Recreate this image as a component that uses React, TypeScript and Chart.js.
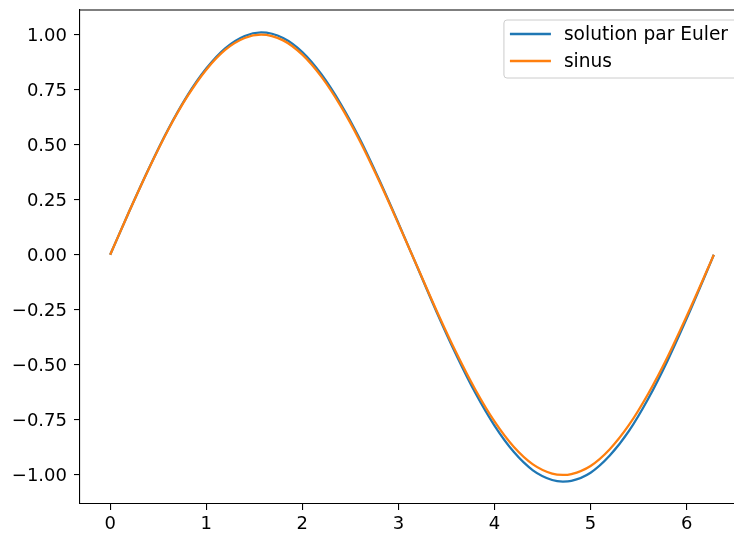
import React, { useEffect, useRef } from "react";
import { Chart, registerables } from "chart.js";

Chart.register(...registerables);

const xValues = [0, 0.2, 0.4, 0.6, 0.8, 1.0, 1.2, 1.4, 1.571, 1.8, 2.0, 2.2, 2.4, 2.6, 2.8, 3.0, 3.2, 3.4, 3.6, 3.8, 4.0, 4.2, 4.4, 4.6, 4.712, 4.8, 5.0, 5.2, 5.4, 5.6, 5.8, 6.0, 6.2, 6.283];
const eulerValues = [0, 0.199, 0.39, 0.567, 0.721, 0.846, 0.939, 0.994, 1.01, 0.985, 0.921, 0.819, 0.685, 0.525, 0.341, 0.144, -0.059, -0.262, -0.453, -0.627, -0.776, -0.895, -0.979, -1.023, -1.03, -1.027, -0.99, -0.912, -0.8, -0.654, -0.482, -0.29, -0.086, 0.0];
const sinusValues = [0, 0.199, 0.389, 0.565, 0.717, 0.841, 0.932, 0.985, 1.0, 0.974, 0.909, 0.808, 0.675, 0.516, 0.335, 0.141, -0.058, -0.256, -0.443, -0.612, -0.757, -0.872, -0.952, -0.994, -1.0, -0.996, -0.959, -0.883, -0.773, -0.631, -0.465, -0.279, -0.083, 0.0];
const seriesLabels = ["solution par Euler", "sinus"];
const seriesColors = ["#1f77b4", "#ff7f0e"];
const xTicks = [0, 1, 2, 3, 4, 5, 6];
const xTickLabels = ["0", "1", "2", "3", "4", "5", "6"];
const yTicks = [-1, -0.75, -0.5, -0.25, 0, 0.25, 0.5, 0.75, 1];
const yTickLabels = ["\u22121.00", "\u22120.75", "\u22120.50", "\u22120.25", "0.00", "0.25", "0.50", "0.75", "1.00"];

const FONT = "'DejaVu Sans', sans-serif";
const FS = 18;
const LEGEND_FS = 18.6;
const LINE_W = 2.3;

const framePlugin = {
  id: "frame",
  afterDatasetsDraw(chart: any) {
    const { ctx, chartArea: a } = chart;
    ctx.save();
    ctx.strokeStyle = "#000";
    ctx.lineWidth = 1.1;
    ctx.beginPath();
    ctx.moveTo(a.left, a.top);
    ctx.lineTo(a.right, a.top);
    ctx.lineTo(a.right, a.bottom);
    ctx.stroke();

    // legend
    ctx.font = `${LEGEND_FS}px ${FONT}`;
    const items = chart.data.datasets.map((ds: any) => ({ label: ds.label, color: ds.borderColor }));
    const textW = Math.max(...items.map((i: any) => ctx.measureText(i.label).width));
    const right = a.right - 7;
    const left = right - (6 + 41 + 13 + textW + 9);
    const top = a.top + 10;
    const rowH = 27;
    const h = 14 + rowH * (items.length - 1) + 17;
    const r = 3;
    ctx.beginPath();
    ctx.moveTo(left + r, top);
    ctx.lineTo(right - r, top);
    ctx.arcTo(right, top, right, top + r, r);
    ctx.lineTo(right, top + h - r);
    ctx.arcTo(right, top + h, right - r, top + h, r);
    ctx.lineTo(left + r, top + h);
    ctx.arcTo(left, top + h, left, top + h - r, r);
    ctx.lineTo(left, top + r);
    ctx.arcTo(left, top, left + r, top, r);
    ctx.closePath();
    ctx.fillStyle = "rgba(255,255,255,0.8)";
    ctx.fill();
    ctx.strokeStyle = "#cccccc";
    ctx.lineWidth = 1;
    ctx.stroke();
    items.forEach((it: any, i: number) => {
      const y = top + 14 + i * rowH;
      ctx.strokeStyle = it.color;
      ctx.lineWidth = LINE_W;
      ctx.beginPath();
      ctx.moveTo(left + 6, y);
      ctx.lineTo(left + 47, y);
      ctx.stroke();
      ctx.fillStyle = "#000";
      ctx.textAlign = "left";
      ctx.textBaseline = "middle";
      ctx.fillText(it.label, left + 60, y + 1);
    });
    ctx.restore();
  },
};

export default function App() {
  const ref = useRef<HTMLCanvasElement | null>(null);
  useEffect(() => {
    if (!ref.current) return;
    const eulerData = xValues.map((x, i) => ({ x, y: eulerValues[i] }));
    const sinusData = xValues.map((x, i) => ({ x, y: sinusValues[i] }));
    const tickFont = { family: FONT, size: FS };
    const chart = new Chart(ref.current, {
      type: "line",
      data: {
        datasets: [
          {
            label: seriesLabels[0],
            data: eulerData,
            borderColor: seriesColors[0],
            backgroundColor: seriesColors[0],
            borderWidth: LINE_W,
            pointRadius: 0,
            cubicInterpolationMode: "monotone",
            order: 1,
          },
          {
            label: seriesLabels[1],
            data: sinusData,
            borderColor: seriesColors[1],
            backgroundColor: seriesColors[1],
            borderWidth: LINE_W,
            pointRadius: 0,
            cubicInterpolationMode: "monotone",
            order: 0,
          },
        ],
      },
      options: {
        responsive: false,
        maintainAspectRatio: false,
        animation: false,
        devicePixelRatio: 1,
        events: [],
        layout: { padding: { left: 0, top: 10, right: 16, bottom: 0 } },
        plugins: { legend: { display: false }, tooltip: { enabled: false } },
        scales: {
          x: {
            type: "linear",
            min: -0.314,
            max: 6.597,
            afterBuildTicks: (s: any) => {
              s.ticks = xTicks.map((v) => ({ value: v }));
            },
            afterFit: (s: any) => {
              s.height = 29;
              s.paddingLeft = 0;
              s.paddingRight = 0;
            },
            ticks: {
              autoSkip: false,
              maxRotation: 0,
              font: tickFont,
              color: "#000",
              padding: 4,
              callback: (_v: any, i: number) => xTickLabels[i],
            },
            grid: { display: true, drawOnChartArea: false, drawTicks: true, tickLength: 6, color: "#000", lineWidth: 1.1 },
            border: { display: true, color: "#000", width: 1.1 },
          },
          y: {
            type: "linear",
            min: -1.132,
            max: 1.112,
            afterBuildTicks: (s: any) => {
              s.ticks = yTicks.map((v) => ({ value: v }));
            },
            afterFit: (s: any) => {
              s.width = 80;
              s.paddingTop = 0;
              s.paddingBottom = 0;
            },
            ticks: {
              autoSkip: false,
              font: tickFont,
              color: "#000",
              padding: 7,
              labelOffset: 1.5,
              callback: (_v: any, i: number) => yTickLabels[i],
            },
            grid: { display: true, drawOnChartArea: false, drawTicks: true, tickLength: 6, color: "#000", lineWidth: 1.1 },
            border: { display: true, color: "#000", width: 1.1 },
          },
        },
      },
      plugins: [framePlugin],
    } as any);
    return () => chart.destroy();
  }, []);
  return (
    <div style={{ position: "fixed", left: 0, top: 0, width: 734, height: 533, overflow: "hidden", background: "#fff" }}>
      <canvas ref={ref} width={760} height={533} style={{ display: "block" }} />
    </div>
  );
}
